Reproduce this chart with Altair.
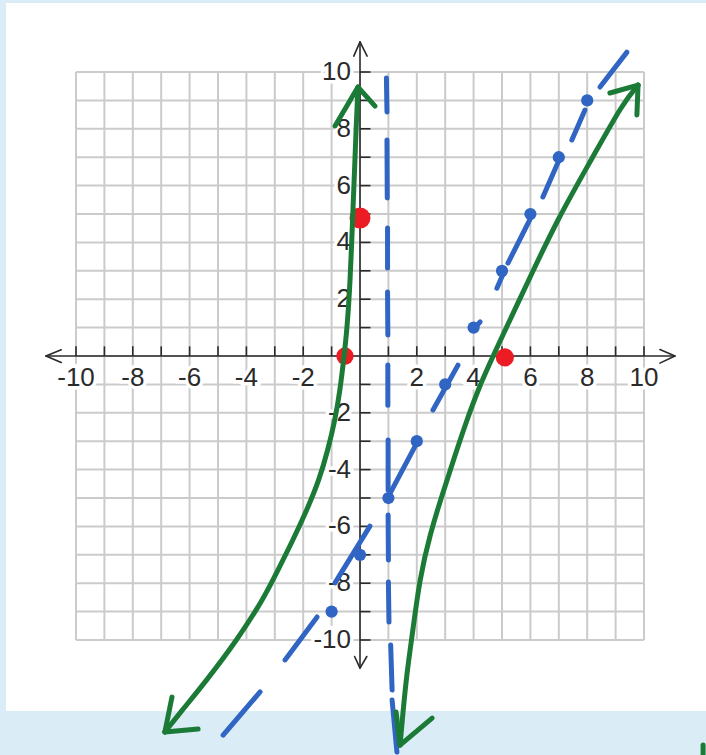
import altair as alt
import pandas as pd

# Visible data window of the plot area
X_DOMAIN = [-12.465, 12.183]
Y_DOMAIN = [-12.5, 12.43]

# Coordinate grid and axis labels
grid_values = list(range(-10, 11))
tick_values = [v for v in range(-10, 11) if v != 0]
x_label_values = [-10, -8, -6, -4, -2, 2, 4, 6, 8, 10]
y_label_values = [10, 8, 6, 4, 2, -2, -4, -6, -8, -10]

# Axis line extents
x_axis_ends = [-11.06, 11.09]
y_axis_ends = [-10.99, 11.06]

# Axis arrowheads (open chevrons): start and end of each stroke
arrow_x1 = [11.09, 11.09, -11.06, -11.06, 0.0, 0.0, 0.0, 0.0]
arrow_y1 = [0.0, 0.0, 0.0, 0.0, 11.06, 11.06, -10.99, -10.99]
arrow_x2 = [10.56, 10.56, -10.52, -10.52, -0.22, 0.25, -0.19, 0.24]
arrow_y2 = [0.23, -0.25, 0.22, -0.23, 10.56, 10.56, -10.58, -10.58]

# Red points: intercepts
red_x = [-0.53, 0.0, 5.1]
red_y = [0.0, 4.86, -0.05]
red_size = [300, 440, 330]

# Blue points on the slant asymptote
blue_dot_x = [-1, 0, 1, 2, 3, 4, 5, 6, 7, 8]
blue_dot_y = [-9, -7, -5, -3, -1, 1, 3, 5, 7, 9]

# Dashes of the slant asymptote
slant_x1 = [-4.82, -2.64, -0.88, 0.95, 2.57, 4.01, 4.82, 5.21, 6.44, 7.46, 8.45]
slant_y1 = [-13.35, -10.70, -7.99, -5.04, -1.90, 0.95, 2.39, 3.27, 5.60, 7.61, 9.47]
slant_x2 = [-3.52, -1.51, 0.35, 2.04, 3.45, 4.23, 5.07, 6.06, 7.04, 7.92, 9.40]
slant_y2 = [-11.83, -9.19, -5.99, -2.99, -0.32, 1.20, 2.96, 4.96, 6.97, 8.66, 10.70]

# Dashes of the vertical asymptote
vert_x1 = [0.93, 0.95, 0.97, 0.97, 0.98, 0.99, 0.99, 1.00, 1.08, 1.13]
vert_y1 = [9.79, 7.61, 4.51, 2.25, -0.32, -2.96, -5.60, -7.96, -10.18, -12.11]
vert_x2 = [0.95, 0.96, 0.97, 0.98, 0.98, 0.99, 1.00, 1.02, 1.13, 1.30]
vert_y2 = [8.59, 5.56, 3.10, 0.74, -1.73, -4.72, -7.18, -9.37, -11.76, -13.94]

# Left branch of the sketched curve (top to bottom)
left_x = [-0.07, -0.14, -0.18, -0.25, -0.35, -0.46, -0.56, -0.70, -0.88, -1.13,
          -1.44, -1.87, -2.36, -2.89, -3.42, -4.33, -5.39, -6.34, -6.87]
left_y = [9.47, 7.96, 6.83, 5.11, 2.50, 0.92, 0.0, -1.20, -2.25, -3.31,
          -4.37, -5.42, -6.48, -7.54, -8.59, -10.00, -11.41, -12.57, -13.24]

# Right branch of the sketched curve (bottom to top)
right_x = [1.41, 1.51, 1.65, 1.83, 2.11, 2.46, 2.89, 3.35, 3.70, 4.15, 4.68,
           5.99, 6.94, 8.20, 9.26, 9.79]
right_y = [-13.70, -12.57, -11.16, -9.89, -7.78, -6.30, -4.89, -3.49, -2.43, -1.20, 0.0,
           2.78, 4.79, 7.01, 8.91, 9.54]

# Arrowhead strokes at the curve ends
wing_x1 = [-0.07, -0.07, -6.87, -6.87, 1.41, 1.41, 9.79, 9.79, 12.08]
wing_y1 = [9.47, 9.47, -13.24, -13.24, -13.70, -13.70, 9.54, 9.54, -13.70]
wing_x2 = [-0.88, 0.53, -6.62, -5.70, 1.27, 2.54, 8.80, 9.75, 12.08]
wing_y2 = [8.10, 8.80, -12.01, -13.13, -12.54, -12.75, 9.26, 8.49, -14.40]

GREEN = "#1b7b36"
BLUE = "#3165c3"
RED = "#ec1c24"
GRID = "#cbcbcb"
INK = "#2a2a2a"

xs = alt.Scale(domain=X_DOMAIN, nice=False, zero=False)
ys = alt.Scale(domain=Y_DOMAIN, nice=False, zero=False)


def segments(x1, y1, x2, y2, color, width, cap="round"):
    df = pd.DataFrame({"x1": x1, "y1": y1, "x2": x2, "y2": y2})
    return alt.Chart(df).mark_rule(color=color, strokeWidth=width, strokeCap=cap).encode(
        x=alt.X("x1:Q", scale=xs, axis=None),
        x2="x2:Q",
        y=alt.Y("y1:Q", scale=ys, axis=None),
        y2="y2:Q",
    )


# Grid
vgrid = segments(grid_values, [-10] * 21, grid_values, [10] * 21, GRID, 2, "butt")
hgrid = segments([-10] * 21, grid_values, [10] * 21, grid_values, GRID, 2, "butt")

# Axes
x_axis = segments([x_axis_ends[0]], [0], [x_axis_ends[1]], [0], INK, 1.6, "butt")
y_axis = segments([0], [y_axis_ends[0]], [0], [y_axis_ends[1]], INK, 1.6, "butt")
arrows = segments(arrow_x1, arrow_y1, arrow_x2, arrow_y2, INK, 1.6)
x_ticks = segments(tick_values, [0] * 20, tick_values, [0.34] * 20, INK, 1.6, "butt")
y_ticks = segments([0] * 20, tick_values, [0.37] * 20, tick_values, INK, 1.6, "butt")

label_font = dict(font="Liberation Sans", fontSize=26)
xlab_df = pd.DataFrame({"v": x_label_values, "z": 0.0,
                        "t": [str(v) for v in x_label_values]})
ylab_df = pd.DataFrame({"v": y_label_values, "z": 0.0,
                        "t": [str(v) for v in y_label_values]})


def x_labels(**style):
    return alt.Chart(xlab_df).mark_text(align="center", baseline="middle", dy=22,
                                        **label_font, **style).encode(
        x=alt.X("v:Q", scale=xs, axis=None),
        y=alt.Y("z:Q", scale=ys, axis=None),
        text="t:N",
    )


def y_labels(**style):
    return alt.Chart(ylab_df).mark_text(align="right", baseline="middle", dx=-9,
                                        **label_font, **style).encode(
        x=alt.X("z:Q", scale=xs, axis=None),
        y=alt.Y("v:Q", scale=ys, axis=None),
        text="t:N",
    )


halo = dict(fill="white", stroke="white", strokeWidth=7)
x_halo = x_labels(**halo)
y_halo = y_labels(**halo)
x_text = x_labels(fill=INK)
y_text = y_labels(fill=INK)

# Asymptotes
vert_dashes = segments(vert_x1, vert_y1, vert_x2, vert_y2, BLUE, 5)
slant_dashes = segments(slant_x1, slant_y1, slant_x2, slant_y2, BLUE, 5)
blue_dots = alt.Chart(pd.DataFrame({"x": blue_dot_x, "y": blue_dot_y})).mark_point(
    filled=True, color=BLUE, opacity=1, size=150, shape="circle"
).encode(x=alt.X("x:Q", scale=xs, axis=None), y=alt.Y("y:Q", scale=ys, axis=None))

# Intercepts
red_dots = alt.Chart(pd.DataFrame({"x": red_x, "y": red_y, "s": red_size})).mark_point(
    filled=True, color=RED, opacity=1, shape="circle"
).encode(
    x=alt.X("x:Q", scale=xs, axis=None),
    y=alt.Y("y:Q", scale=ys, axis=None),
    size=alt.Size("s:Q", scale=None, legend=None),
)

# Curve branches, smoothed through the sketched points
branch_df = pd.concat([
    pd.DataFrame({"x": left_x, "y": left_y, "branch": "left", "i": range(len(left_x))}),
    pd.DataFrame({"x": right_x, "y": right_y, "branch": "right", "i": range(len(right_x))}),
])
branches = alt.Chart(branch_df).mark_line(
    color=GREEN, strokeWidth=5, strokeCap="round", strokeJoin="round",
    interpolate="basis"
).encode(
    x=alt.X("x:Q", scale=xs, axis=None),
    y=alt.Y("y:Q", scale=ys, axis=None),
    detail="branch:N",
    order="i:Q",
)
wings = segments(wing_x1, wing_y1, wing_x2, wing_y2, GREEN, 5)

chart = alt.layer(
    vgrid, hgrid, x_axis, y_axis, arrows, x_ticks, y_ticks,
    x_halo, y_halo, x_text, y_text,
    vert_dashes, slant_dashes, blue_dots, red_dots, branches, wings,
).properties(
    width=700,
    height=708,
    padding={"left": 6, "top": 3, "right": 0, "bottom": 44},
    autosize=alt.AutoSizeParams(type="none"),
    background="#daedf7",
).configure_view(fill="white", strokeWidth=0)

chart.save("out.html", embed_options={"renderer": "svg", "actions": False})
